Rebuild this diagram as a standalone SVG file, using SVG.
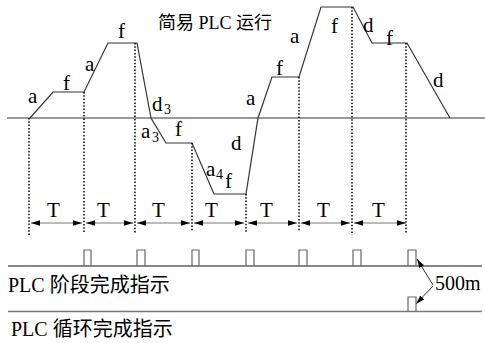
<svg xmlns="http://www.w3.org/2000/svg" width="485" height="343" viewBox="0 0 485 343">
<style>
.t{font-family:"Liberation Serif","Noto Sans CJK SC",serif;fill:#000}
.l{font-size:21px}
.s{font-size:14px}
.lab{font-size:20px}
.dot{stroke:#000;stroke-width:1.5;stroke-dasharray:1.5 1.8;fill:none}
.pulse{stroke:#666;stroke-width:1.2;fill:none}
.arr{stroke:#777;stroke-width:1.2;fill:none}
</style>
<defs>
<marker id="ah" viewBox="0 0 10 6" refX="10" refY="3" markerWidth="9" markerHeight="6" markerUnits="userSpaceOnUse" orient="auto-start-reverse">
<path d="M0,0 L10,3 L0,6 Z" fill="#000"/>
</marker>
</defs>
<rect width="485" height="343" fill="#fff"/>
<g id="axis">
<line x1="7" y1="118" x2="485" y2="118" stroke="#777" stroke-width="1.5"/>
</g>
<g id="profile">
<polyline points="30,118 53,92 84,92 108,43 137,43 151,118 166,143 192,143 214,194 246,194 258,118 272,77 299,77 321,7 353,7 372,43 407,43 450,118" fill="none" stroke="#333" stroke-width="1.2"/>
</g>
<g id="connectors">
<line class="dot" x1="29" y1="118" x2="29" y2="236"/>
<line class="dot" x1="84" y1="92" x2="84" y2="233"/>
<line class="dot" x1="135" y1="43" x2="135" y2="233"/>
<line class="dot" x1="192" y1="143" x2="192" y2="232"/>
<line class="dot" x1="246" y1="194" x2="246" y2="233"/>
<line class="dot" x1="299" y1="77" x2="299" y2="232"/>
<line class="dot" x1="352" y1="7" x2="352" y2="235"/>
<line class="dot" x1="406" y1="43" x2="406" y2="233"/>
<line class="arr" x1="31" y1="223" x2="82" y2="223" marker-start="url(#ah)" marker-end="url(#ah)"/>
<line class="arr" x1="86" y1="223" x2="133" y2="223" marker-start="url(#ah)" marker-end="url(#ah)"/>
<line class="arr" x1="137" y1="223" x2="190" y2="223" marker-start="url(#ah)" marker-end="url(#ah)"/>
<line class="arr" x1="194" y1="223" x2="244" y2="223" marker-start="url(#ah)" marker-end="url(#ah)"/>
<line class="arr" x1="248" y1="223" x2="297" y2="223" marker-start="url(#ah)" marker-end="url(#ah)"/>
<line class="arr" x1="301" y1="223" x2="350" y2="223" marker-start="url(#ah)" marker-end="url(#ah)"/>
<line class="arr" x1="354" y1="223" x2="406" y2="223" marker-start="url(#ah)" marker-end="url(#ah)"/>
<line stroke="#333" stroke-width="1" x1="433" y1="285" x2="417" y2="259" marker-end="url(#ah)"/>
<line stroke="#333" stroke-width="1" x1="433" y1="286" x2="416" y2="304" marker-end="url(#ah)"/>
</g>
<g id="stage-signal">
<line x1="8" y1="266" x2="482" y2="266" stroke="#111" stroke-width="1.2"/>
<polyline class="pulse" points="84,266 84,250 91,250 91,266"/>
<polyline class="pulse" points="137,266 137,250 145,250 145,266"/>
<polyline class="pulse" points="192,266 192,250 199,250 199,266"/>
<polyline class="pulse" points="246,266 246,250 254,250 254,266"/>
<polyline class="pulse" points="299,266 299,250 307,250 307,266"/>
<polyline class="pulse" points="353,266 353,250 361,250 361,266"/>
<polyline class="pulse" points="408,266 408,250 416,250 416,266"/>
</g>
<g id="cycle-signal">
<line x1="8" y1="311.5" x2="482" y2="311.5" stroke="#777" stroke-width="1.5"/>
<polyline class="pulse" points="408,311.5 408,297 416,297 416,311.5"/>
</g>
<g id="labels">
<text class="t" x="158" y="29" font-size="18">简易 PLC 运行</text>
<text class="t l" x="28" y="103">a</text>
<text class="t l" x="63" y="90">f</text>
<text class="t l" x="85" y="71">a</text>
<text class="t l" x="118" y="38">f</text>
<text class="t l" x="152" y="111">d</text><text class="t s" x="164" y="114">3</text>
<text class="t l" x="141" y="138">a</text><text class="t s" x="152" y="142">3</text>
<text class="t l" x="175" y="136">f</text>
<text class="t l" x="231" y="150">d</text>
<text class="t l" x="206" y="176">a</text><text class="t s" x="216" y="179">4</text>
<text class="t l" x="225" y="188">f</text>
<text class="t l" x="246" y="105">a</text>
<text class="t l" x="276" y="75">f</text>
<text class="t l" x="290" y="43">a</text>
<text class="t l" x="331" y="33">f</text>
<text class="t l" x="363" y="32">d</text>
<text class="t l" x="386" y="45">f</text>
<text class="t l" x="433" y="87">d</text>
<text class="t l" x="47" y="217">T</text>
<text class="t l" x="97" y="217">T</text>
<text class="t l" x="152" y="217">T</text>
<text class="t l" x="205" y="217">T</text>
<text class="t l" x="260" y="217">T</text>
<text class="t l" x="317" y="217">T</text>
<text class="t l" x="372" y="217">T</text>
<text class="t lab" x="435" y="290">500m</text>
<text class="t lab" x="8" y="292">PLC 阶段完成指示</text>
<text class="t lab" x="11" y="336">PLC 循环完成指示</text>
</g>
</svg>
